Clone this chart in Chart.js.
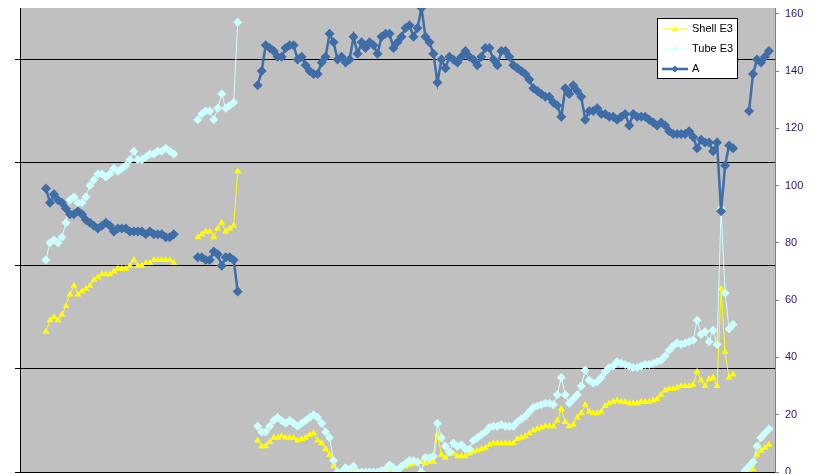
<!DOCTYPE html>
<html>
<head>
<meta charset="utf-8">
<script src="https://cdn.jsdelivr.net/npm/chart.js@4.4.1/dist/chart.umd.min.js"></script>
<style>
  html, body { margin: 0; padding: 0; background: #fff; overflow: hidden; }
  #wrap { width: 815px; height: 474px; overflow: hidden; }
</style>
</head>
<body>
<div id="wrap"><canvas id="myChart" width="815" height="477"></canvas></div>
<script>
// values, one segment per run of points (gaps are null)
var shellSeg1 = [49,53,54,53,55,58,62,65,62,63,64,65,67,68,69,69,69,70,71,71,71,72,74,72,72,73,73,74,74,74,74,74,73];
var tubeSeg1  = [74,80,81,80,82,87,95,96,94,94,96,100,102,104,104,103,104,106,105,106,107,109,112,109,109,110,111,111,112,112,113,112,111];
var aSeg1     = [99,94,97,95,94,92,90,90,91,90,88,87,86,85,86,87,86,84,85,85,85,84,84,84,84,83,84,83,83,83,82,82,83];

var shellSeg2 = [82,83,84,84,82,85,87,84,85,86,105];
var tubeSeg2  = [123,125,126,126,123,127,132,127,128,129,157];
var aSeg2     = [75,75,74,74,77,76,72,75,75,74,63];

var shellSeg3 = [11,9,9,10.5,12,12,12.5,12,12,12, 11,11.5,12,13,13.5,11,10,8,6,2,
  0,0,0,0,0,0,0,0,0,0, 0,0,0,0.5,0,1,1.5,2,2.5,3, 3.5,3.5,3,3.5,3.5,13,6,5,6.5,6.5,
  5.5,5.5,5.5,6.5,7,7.5,8,8.5,9.5,10, 10,10,10,10,10,11.5,12,12.5,13.5,14.5,
  15,15.5,16,16,16,18,22,17.5,16,16.5, 19,20.5,23.5,21,20.5,20.5,21,23,24,24.5,
  25,24.5,24.5,24,24,24,24.5,24.5,24.5,25, 25.5,27,28.5,29,29,29.5,30,30,30,30.5,
  35,32,30,32.5,33,30,64,42,33,34];
var tubeSeg3 = [16,14,14,16,18,19,18,17,18,17, 16,17,18,19,20,19,17,14,12,4,
  0,0,1.5,1,2,0,0,0,0,0, 0,0.5,1,2.5,1.5,0.5,2,3,4,4, 3.5,0,5,5,5.5,17,12,9,7,10,
  9,9.5,8,8,11,12,13,14,15.5,16, 16,16.5,16,16,16,17.5,18.5,19.5,21,22.5,
  23,23.5,24,24,23.5,27,33,27,24,25.5, 27,30,35.5,32,31,31.5,33,35,36.5,37,
  38.5,38,37.5,37,36.5,36.5,37,37.5,37.5,38, 38.5,39,40.5,42.5,44,45,44.5,45,45.5,46,
  53,48,49,45.5,49.5,44.5,92,62.5,50,51.5];
var aSeg3 = [135,140,149,148,147,145,145,148,149,149, 144,145,142,140,139,139,143,145,153,150,
  144,145,143,144,152,146,150,148,150,149, 146,152,153,153,148,150,152,155,156,152,
  155,162,152,150,146,136,144,141,145,144, 143,145,147,145,144,142,145,148,148,144,
  142,147,147,145,142,141,140,139,137,134, 133,132,131,131,129,128,124,134,132,135,
  133,131,123,126,126,127,125,125,124,124, 123,124,125,121,125,124,124,124,123,122,
  121,122,121,119,118,118,118,118,119,117, 113,116,115,115,112,115,91,107,114,113];

var shellSeg4 = [0,0.5,1,6,7.5,8.5,9.5];
var tubeSeg4  = [0.5,2,3.5,9,12,13.5,15];
var aSeg4     = [126,139,144,143,145,147];

var gridValues = [0, 36, 72, 108, 144];
var yTickValues = [0, 20, 40, 60, 80, 100, 120, 140, 160];
var seriesNames = ['Shell E3', 'Tube E3', 'A'];

function join(parts) {
    var out = [];
    parts.forEach(function (p) {
        if (typeof p === 'number') {
            for (var k = 0; k < p; k++) out.push(null);
        } else {
            out = out.concat(p);
        }
    });
    return out;
}

var shellE3 = join([6, shellSeg1, 5, shellSeg2, 4, shellSeg3, 2, shellSeg4, 1]);
var tubeE3  = join([6, tubeSeg1, 5, tubeSeg2, 4, tubeSeg3, 2, tubeSeg4, 1]);
var seriesA = join([6, aSeg1, 5, aSeg2, 4, aSeg3, 3, aSeg4, 1]);

var categories = shellE3.map(function (v, i) { return String(i + 1); });

var colors = ['#FFFF00', '#CCFFFF', '#3E6DA8'];

function noPad(s) {
    s.paddingTop = 0;
    s.paddingBottom = 0;
    s.paddingLeft = 0;
    s.paddingRight = 0;
}

var plotBack = {
    id: 'plotBack',
    beforeDraw: function (chart) {
        var c = chart.ctx, a = chart.chartArea;
        c.save();
        c.fillStyle = '#ffffff';
        c.fillRect(0, 0, chart.width, chart.height);
        c.fillStyle = '#C0C0C0';
        c.fillRect(a.left, a.top, a.right - a.left, a.bottom - a.top);
        c.restore();
    }
};

var boxLegend = {
    id: 'boxLegend',
    afterDraw: function (chart) {
        var c = chart.ctx;
        var left = 657, top = 18, w = 81, h = 61;
        c.save();
        c.fillStyle = '#ffffff';
        c.fillRect(left, top, w, h);
        c.strokeStyle = '#000000';
        c.lineWidth = 1;
        c.strokeRect(left + 0.5, top + 0.5, w - 1, h - 1);
        c.font = '11px "Liberation Sans", Arial, sans-serif';
        c.textBaseline = 'middle';
        chart.data.datasets.forEach(function (ds, i) {
            var y = top + 11 + i * 20;
            c.strokeStyle = ds.borderColor;
            c.lineWidth = ds.borderWidth;
            c.beginPath();
            c.moveTo(left + 5, y);
            c.lineTo(left + 31, y);
            c.stroke();
            c.fillStyle = ds.borderColor;
            var r = i === 2 ? 3.5 : 3;
            c.beginPath();
            if (ds.pointStyle === 'triangle') {
                c.moveTo(left + 18, y - r);
                c.lineTo(left + 18 + r, y + r * 0.7);
                c.lineTo(left + 18 - r, y + r * 0.7);
            } else {
                c.moveTo(left + 18, y - r);
                c.lineTo(left + 18 + r, y);
                c.lineTo(left + 18, y + r);
                c.lineTo(left + 18 - r, y);
            }
            c.closePath();
            c.fill();
            c.fillStyle = '#000000';
            c.fillText(ds.label, left + 35, y);
        });
        c.restore();
    }
};

new Chart(document.getElementById('myChart'), {
    type: 'line',
    data: {
        labels: categories,
        datasets: [{
            label: seriesNames[0],
            data: shellE3,
            borderColor: colors[0],
            backgroundColor: colors[0],
            borderWidth: 1,
            pointStyle: 'triangle',
            pointRadius: 4,
            pointBorderWidth: 0,
            yAxisID: 'yR',
            order: 3
        }, {
            label: seriesNames[1],
            data: tubeE3,
            borderColor: colors[1],
            backgroundColor: colors[1],
            borderWidth: 1,
            pointStyle: 'rectRot',
            pointRadius: 4.5,
            pointBorderWidth: 0,
            yAxisID: 'yR',
            order: 2
        }, {
            label: seriesNames[2],
            data: seriesA,
            borderColor: colors[2],
            backgroundColor: colors[2],
            borderWidth: 2.5,
            pointStyle: 'rectRot',
            pointRadius: 5,
            pointBorderWidth: 0,
            yAxisID: 'yR',
            order: 1
        }]
    },
    options: {
        responsive: false,
        animation: false,
        devicePixelRatio: 1,
        layout: { padding: { left: 20, right: 0, top: 8, bottom: 0 } },
        plugins: {
            legend: { display: false },
            tooltip: { enabled: false }
        },
        scales: {
            x: {
                offset: true,
                grid: { display: false },
                border: { color: '#000000', width: 1 },
                ticks: { display: false },
                afterFit: function (s) { s.height = 0; noPad(s); }
            },
            yL: {
                position: 'left',
                min: 0,
                max: 162,
                afterBuildTicks: function (s) {
                    s.ticks = gridValues.map(function (v) { return { value: v }; });
                },
                grid: { color: '#000000', lineWidth: 1, tickLength: 5 },
                border: { color: '#000000', width: 1 },
                ticks: { display: false },
                afterFit: function (s) { s.width = 0; noPad(s); }
            },
            yR: {
                position: 'right',
                min: 0,
                max: 162,
                afterBuildTicks: function (s) {
                    s.ticks = yTickValues.map(function (v) { return { value: v }; });
                },
                grid: { drawOnChartArea: false, color: '#808080', tickLength: 4 },
                border: { color: '#808080', width: 1 },
                ticks: {
                    color: '#22167a',
                    padding: 6,
                    font: { family: '"Liberation Sans", Arial, sans-serif', size: 11 }
                },
                afterFit: function (s) { s.width = 40; noPad(s); }
            }
        }
    },
    plugins: [plotBack, boxLegend]
});
</script>
</body>
</html>
